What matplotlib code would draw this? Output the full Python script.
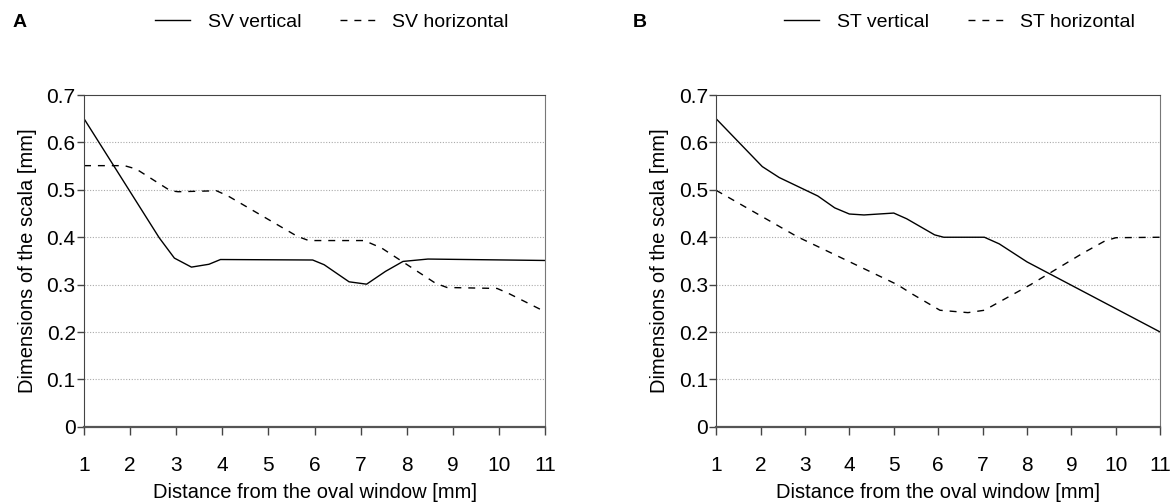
import matplotlib
matplotlib.use("Agg")
from matplotlib import pyplot as plt

plt.rcParams['font.family'] = ['Liberation Sans', 'DejaVu Sans']

# Panel A: scala vestibuli
sv_vert_x = [1, 2.63, 2.96, 3.33, 3.71, 3.96, 5.96, 6.21, 6.75, 7.13, 7.54, 7.92, 8.46, 11]
sv_vert_y = [0.65, 0.399, 0.356, 0.337, 0.343, 0.353, 0.352, 0.342, 0.306, 0.301, 0.328, 0.349, 0.354, 0.351]
sv_horz_x = [1, 1.875, 2.13, 2.875, 3.04, 3.875, 4.125, 5.625, 5.875, 7.08, 7.46, 8.625, 8.875, 9.96, 10.2, 11]
sv_horz_y = [0.551, 0.551, 0.544, 0.498, 0.496, 0.498, 0.487, 0.402, 0.393, 0.393, 0.377, 0.303, 0.294, 0.292, 0.282, 0.243]

# Panel B: scala tympani
st_vert_x = [1, 2.04, 2.42, 3.29, 3.67, 4.0, 4.33, 5.0, 5.29, 5.92, 6.125, 7.04, 7.375, 8.0, 11]
st_vert_y = [0.65, 0.549, 0.526, 0.487, 0.462, 0.449, 0.447, 0.451, 0.439, 0.405, 0.400, 0.400, 0.386, 0.348, 0.2]
st_horz_x = [1, 2.83, 5.08, 5.42, 6.04, 6.67, 7.04, 8.08, 9.25, 9.75, 10.0, 11]
st_horz_y = [0.499, 0.401, 0.300, 0.280, 0.246, 0.241, 0.246, 0.300, 0.366, 0.392, 0.399, 0.4]

x_ticks = list(range(1, 12))
y_ticks = [0, 0.1, 0.2, 0.3, 0.4, 0.5, 0.6, 0.7]
y_ticklabels = ["0", "0.1", "0.2", "0.3", "0.4", "0.5", "0.6", "0.7"]

fig = plt.figure(figsize=(11.72, 5.04), dpi=100)
ax_a = fig.add_axes([0.0717, 0.153, 0.3933, 0.6585])
ax_b = fig.add_axes([0.611, 0.153, 0.379, 0.6585])

panels = [
    (ax_a, "A", sv_vert_x, sv_vert_y, sv_horz_x, sv_horz_y, "SV vertical", "SV horizontal", 0.011),
    (ax_b, "B", st_vert_x, st_vert_y, st_horz_x, st_horz_y, "ST vertical", "ST horizontal", 0.540),
]

for ax, letter, vx, vy, hx, hy, vlab, hlab, letter_x in panels:
    ax.plot(vx, vy, color="black", lw=1.0, label=vlab)
    ax.plot(hx, hy, color="black", lw=1.0, dashes=(5, 5), label=hlab)

    ax.set_xlim(1, 11)
    ax.set_ylim(0, 0.7)
    ax.set_xticks(x_ticks)
    ax.set_yticks(y_ticks)
    ax.set_yticklabels(y_ticklabels)
    ax.tick_params(axis="x", direction="out", length=6, width=1, color="#444444",
                   pad=15, labelsize=15)
    ax.tick_params(axis="y", direction="out", length=5, width=1, color="#444444",
                   pad=1, labelsize=15)

    for y in y_ticks[1:-1]:
        ax.axhline(y, color="#aaaaaa", lw=0.8, ls=(0, (1, 1.5)), zorder=0)

    ax.spines["left"].set_color("#444444")
    ax.spines["top"].set_color("#444444")
    ax.spines["bottom"].set_color("#555555")
    ax.spines["bottom"].set_linewidth(1.6)
    ax.spines["right"].set_color("#777777")

    ax.set_xlabel("Distance from the oval window [mm]", fontsize=14.5, labelpad=6)
    ax.set_ylabel("Dimensions of the scala [mm]", fontsize=14.5, labelpad=7)

    ax.legend(loc="center left", bbox_to_anchor=(0.154, 1.22), ncol=2, frameon=False,
              fontsize=14, borderpad=0, borderaxespad=0, handlelength=1.8,
              handletextpad=0.9, columnspacing=2.0)

    fig.text(letter_x, 0.955, letter, fontsize=14, fontweight="bold", va="center")

plt.savefig("out.png", dpi=100)
